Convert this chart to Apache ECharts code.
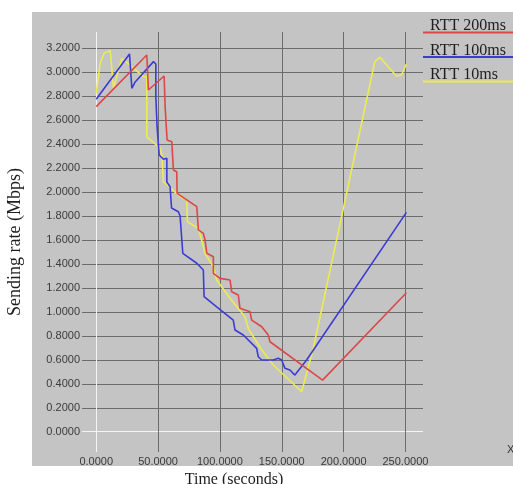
<!DOCTYPE html>
<html>
<head>
<meta charset="utf-8">
<script src="https://cdn.jsdelivr.net/npm/echarts@6/dist/echarts.min.js"></script>
<style>
html,body{margin:0;padding:0;background:#fff;}
#chart{width:513px;height:484px;}
</style>
</head>
<body>
<div id="chart"></div>
<script>
const seriesNames = ['RTT 200ms', 'RTT 100ms', 'RTT 10ms'];
const xTicks = [0, 50, 100, 150, 200, 250];
const yTicks = [0, 0.2, 0.4, 0.6, 0.8, 1.0, 1.2, 1.4, 1.6, 1.8, 2.0, 2.2, 2.4, 2.6, 2.8, 3.0, 3.2];

const rtt200Time = [0, 40.9, 42.2, 54.9, 55.7, 57.1, 57.3, 61.1, 62.4, 62.4, 65.1, 65.4, 81.3, 82.6, 86.6, 88.0, 89.4, 94.7, 94.7, 100.1, 108.2, 109.5, 114.9, 116.2, 124.3, 125.7, 133.8, 139.1, 140.5, 183.0, 250.8];
const rtt200Rate = [2.713, 3.144, 2.852, 2.969, 2.713, 2.699, 2.435, 2.421, 2.407, 2.185, 2.170, 1.990, 1.878, 1.684, 1.656, 1.600, 1.489, 1.461, 1.322, 1.280, 1.266, 1.169, 1.141, 1.030, 1.002, 0.932, 0.876, 0.807, 0.751, 0.431, 1.160];

const rtt100Time = [0, 26.9, 28.8, 31.5, 46.3, 48.2, 48.2, 49.0, 49.2, 50.3, 50.9, 54.3, 57.1, 57.1, 59.7, 60.9, 66.4, 67.8, 69.2, 70.0, 81.3, 86.6, 87.2, 97.4, 110.8, 112.2, 118.9, 129.7, 131.0, 133.8, 143.1, 147.2, 149.9, 152.6, 156.6, 160.6, 170.1, 250.8];
const rtt100Rate = [2.775, 3.153, 2.866, 2.919, 3.089, 3.069, 2.796, 2.783, 2.546, 2.533, 2.310, 2.274, 2.282, 2.084, 2.045, 1.867, 1.836, 1.800, 1.784, 1.489, 1.406, 1.350, 1.127, 1.043, 0.932, 0.849, 0.807, 0.696, 0.626, 0.599, 0.599, 0.613, 0.599, 0.529, 0.515, 0.473, 0.599, 1.831];

const rtt10Time = [0, 3.2, 6.5, 11.3, 14.0, 20.7, 38.2, 40.9, 40.9, 51.7, 53.0, 54.3, 67.8, 73.2, 73.7, 82.6, 88.0, 94.7, 97.4, 108.2, 120.3, 122.9, 132.4, 143.1, 166.1, 175.2, 192.9, 225.2, 229.3, 242.7, 246.8, 250.8];
const rtt10Rate = [2.825, 3.075, 3.161, 3.180, 2.866, 3.117, 2.963, 2.963, 2.460, 2.366, 2.310, 2.087, 1.962, 1.934, 1.753, 1.698, 1.489, 1.377, 1.266, 1.114, 0.960, 0.863, 0.703, 0.557, 0.334, 0.682, 1.533, 3.088, 3.125, 2.969, 2.977, 3.069];

const colors = ['#dc4848', '#3c3cd4', '#ecec52'];
const zip = (a, b) => a.map((v, i) => [v, b[i]]);
const seriesData = [zip(rtt200Time, rtt200Rate), zip(rtt100Time, rtt100Rate), zip(rtt10Time, rtt10Rate)];

const gridDark = '#6c6c6c';
const zeroLine = '#f4f4f4';
const lineColors = (n) => [zeroLine].concat(new Array(n).fill(gridDark));

const chart = echarts.init(document.getElementById('chart'), null, {renderer: 'canvas'});
chart.setOption({
  animation: false,
  backgroundColor: '#ffffff',
  color: colors,
  graphic: [
    {type: 'rect', left: 32, top: 12, z: -10, shape: {width: 481, height: 454}, style: {fill: '#c4c4c4'}},
    {type: 'text', left: 507, top: 444, z: 10, style: {text: 'X', fill: '#333', font: '11px "Liberation Sans"'}}
  ],
  grid: {left: 82, right: 90, top: 32, bottom: 32, containLabel: false, outerBoundsMode: 'none'},
  legend: {
    orient: 'vertical',
    left: 413,
    top: 13,
    itemWidth: 0,
    itemHeight: 13,
    itemGap: 8.5,
    icon: 'rect',
    itemStyle: {opacity: 0},
    selectedMode: false,
    formatter: (name) => '{t|' + name + '}\n{l|}',
    data: seriesNames.map((n, i) => ({
      name: n,
      textStyle: {
        rich: {
          t: {fontFamily: 'Liberation Serif', fontSize: 16, color: '#1e1e1e', lineHeight: 11, padding: [0, 0, 0, 7]},
          l: {width: 95, height: 2, lineHeight: 2, fontSize: 1, backgroundColor: colors[i]}
        }
      }
    }))
  },
  xAxis: {
    type: 'value',
    min: -11.5,
    max: 264.2,
    name: 'Time (seconds)',
    nameLocation: 'middle',
    nameGap: 17,
    nameTextStyle: {fontFamily: 'Liberation Serif', fontSize: 16, color: '#1e1e1e', padding: [0, 37, 0, 0]},
    axisLine: {show: false},
    axisTick: {show: false, customValues: xTicks},
    axisLabel: {
      customValues: xTicks,
      margin: 4,
      fontFamily: 'Liberation Sans',
      fontSize: 11,
      color: '#3a3a3a',
      formatter: (v) => Number(v).toFixed(4)
    },
    splitLine: {show: true, lineStyle: {color: lineColors(10), width: 1}}
  },
  yAxis: {
    type: 'value',
    min: -0.169,
    max: 3.336,
    name: 'Sending rate (Mbps)',
    nameLocation: 'middle',
    nameGap: 58,
    nameRotate: 90,
    nameTextStyle: {fontFamily: 'Liberation Serif', fontSize: 18, color: '#1e1e1e'},
    axisLine: {show: false},
    axisTick: {show: false, customValues: yTicks},
    axisLabel: {
      customValues: yTicks,
      margin: 2,
      fontFamily: 'Liberation Sans',
      fontSize: 11,
      color: '#3a3a3a',
      formatter: (v) => Number(v).toFixed(4)
    },
    splitLine: {show: true, lineStyle: {color: lineColors(20), width: 1}}
  },
  series: seriesNames.map((n, i) => ({
    name: n,
    type: 'line',
    data: seriesData[i],
    showSymbol: false,
    symbol: 'none',
    lineStyle: {width: 1.6, color: colors[i]},
    z: 5 - i
  }))
});
</script>
</body>
</html>
